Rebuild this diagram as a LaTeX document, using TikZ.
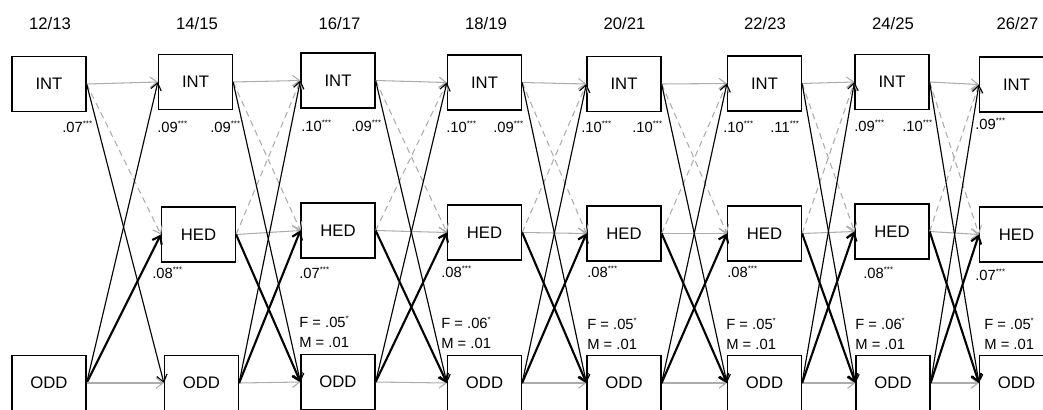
\documentclass[tikz,border=0pt]{standalone}
\usepackage{fontspec}
\setmainfont{Liberation Sans}
\usetikzlibrary{arrows.meta}
\newcommand{\sig}[1]{\raisebox{0.75ex}{\fontsize{4.5}{4.5}\selectfont #1}}
\tikzset{
  wave/.style={draw, line width=0.7pt, minimum width=1.48cm, minimum height=1.1cm,
    inner sep=0pt, font=\fontsize{9.5}{11}\selectfont},
  year/.style={font=\fontsize{9.5}{11}\selectfont},
  coef/.style={anchor=west, inner sep=0pt, font=\fontsize{8.4}{11.3}\selectfont, align=left},
  tip/.style={-{Straight Barb[length=4pt,width=6pt]}},
  same/.style={tip, gray!65, line width=0.6pt},
  lagdash/.style={same, dash pattern=on 3.5pt off 2.5pt},
  thinlink/.style={tip, black, line width=0.65pt},
  boldlink/.style={tip, black, line width=1.2pt}
}
\begin{document}
\begin{tikzpicture}[x=0.02cm, y=-0.02cm]
  \useasboundingbox (0,0) rectangle (1043,409);
  % years
  \node[year] at (50,24) {12/13};
  \node[year] at (197,24) {14/15};
  \node[year] at (339.5,24) {16/17};
  \node[year] at (486,24) {18/19};
  \node[year] at (624.5,24) {20/21};
  \node[year] at (765,24) {22/23};
  \node[year] at (893,24) {24/25};
  \node[year] at (1017.5,24) {26/27};
  % INT
  \node[wave] (int1) at (49,84) {INT};
  \node[wave] (int2) at (195.5,82) {INT};
  \node[wave] (int3) at (338,80.5) {INT};
  \node[wave] (int4) at (484.5,82.5) {INT};
  \node[wave] (int5) at (624,84) {INT};
  \node[wave] (int6) at (764.5,83.5) {INT};
  \node[wave] (int7) at (892,82) {INT};
  \node[wave] (int8) at (1016.5,84.5) {INT};
  % HED
  \node[wave] (hed2) at (198.5,234.5) {HED};
  \node[wave] (hed3) at (338,230.5) {HED};
  \node[wave] (hed4) at (484.5,232.5) {HED};
  \node[wave] (hed5) at (624,233.5) {HED};
  \node[wave] (hed6) at (764.5,233.5) {HED};
  \node[wave] (hed7) at (892,231.5) {HED};
  \node[wave] (hed8) at (1016.5,234.5) {HED};
  % ODD
  \node[wave] (odd1) at (49,383) {ODD};
  \node[wave] (odd2) at (201.5,383) {ODD};
  \node[wave] (odd3) at (338,382) {ODD};
  \node[wave] (odd4) at (484.5,383) {ODD};
  \node[wave] (odd5) at (624,383) {ODD};
  \node[wave] (odd6) at (764.5,383) {ODD};
  \node[wave] (odd7) at (893,383) {ODD};
  \node[wave] (odd8) at (1016.5,383) {ODD};
  % first wave
  \draw[same] (int1.east) -- (int2.west);
  \draw[lagdash] (int1.east) -- (hed2.west);
  \draw[thinlink] (int1.east) -- (odd2.west);
  \draw[thinlink] (odd1.east) -- (int2.west);
  \draw[boldlink] (odd1.east) -- (hed2.west);
  \draw[same] (odd1.east) -- (odd2.west);
  % later waves
  \foreach \a/\b in {2/3,3/4,4/5,5/6,6/7,7/8} {
    \draw[same] (int\a.east) -- (int\b.west);
    \draw[same] (hed\a.east) -- (hed\b.west);
    \draw[same] (odd\a.east) -- (odd\b.west);
    \draw[lagdash] (int\a.east) -- (hed\b.west);
    \draw[lagdash] (hed\a.east) -- (int\b.west);
    \draw[thinlink] (int\a.east) -- (odd\b.west);
    \draw[thinlink] (odd\a.east) -- (int\b.west);
    \draw[boldlink] (hed\a.east) -- (odd\b.west);
    \draw[boldlink] (odd\a.east) -- (hed\b.west);
  }
  % INT stabilities
  \node[coef] at (62,127) {.07\sig{***}};
  \node[coef] at (157,127) {.09\sig{***}};
  \node[coef] at (210,127) {.09\sig{***}};
  \node[coef] at (301,126) {.10\sig{***}};
  \node[coef] at (351,126) {.09\sig{***}};
  \node[coef] at (446,127) {.10\sig{***}};
  \node[coef] at (493,127) {.09\sig{***}};
  \node[coef] at (581,127) {.10\sig{***}};
  \node[coef] at (632,127) {.10\sig{***}};
  \node[coef] at (723,127) {.10\sig{***}};
  \node[coef] at (770,127) {.11\sig{***}};
  \node[coef] at (854,126) {.09\sig{***}};
  \node[coef] at (902,126) {.10\sig{***}};
  \node[coef] at (975,124) {.09\sig{***}};
  % HED stabilities
  \node[coef] at (152,273) {.08\sig{***}};
  \node[coef] at (299,273) {.07\sig{***}};
  \node[coef] at (441,272) {.08\sig{***}};
  \node[coef] at (587,272) {.08\sig{***}};
  \node[coef] at (727,272) {.08\sig{***}};
  \node[coef] at (863,273) {.08\sig{***}};
  \node[coef] at (975,275) {.07\sig{***}};
  % ODD stabilities
  \node[coef] at (299,332) {F = .05\sig{*}\\M = .01};
  \node[coef] at (441,333) {F = .06\sig{*}\\M = .01};
  \node[coef] at (587,334) {F = .05\sig{*}\\M = .01};
  \node[coef] at (726,334) {F = .05\sig{*}\\M = .01};
  \node[coef] at (855,334) {F = .06\sig{*}\\M = .01};
  \node[coef] at (984,334) {F = .05\sig{*}\\M = .01};
\end{tikzpicture}
\end{document}
